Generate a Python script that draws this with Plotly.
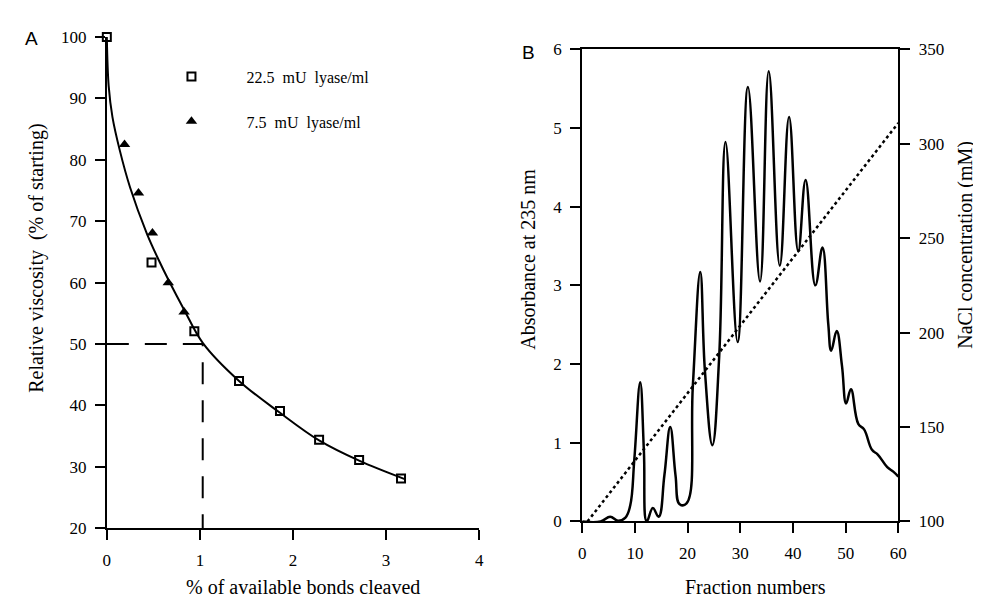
import plotly.graph_objects as go

# panel A: viscosity vs % bonds cleaved
sq_x = [0.0, 0.48, 0.94, 1.42, 1.86, 2.28, 2.71, 3.16]
sq_y = [100, 63.3, 52.1, 44.0, 39.1, 34.4, 31.1, 28.1]
tri_x = [0.19, 0.34, 0.49, 0.66, 0.83]
tri_y = [82.5, 74.6, 68.1, 60.0, 55.2]
fit_x = [0.0, 0.02, 0.06, 0.14, 0.25, 0.43, 0.56, 0.66, 0.83, 1.03, 1.42, 1.86, 2.28, 2.71, 3.2]
fit_y = [100, 92.0, 87.0, 81.5, 75.5, 68.0, 63.6, 60.5, 55.6, 50.2, 44.0, 38.8, 34.3, 31.0, 28.0]
half_x = [0, 1.03, 1.03]
half_y = [50, 50, 20]

# panel B: elution profile
frac = [0, 3.5, 5.3, 6.8, 8.2, 9.1, 9.9, 11.0, 11.7, 12.25, 13.4, 14.5, 15.6, 16.7, 17.7,
        18.5, 19.8, 21.0, 22.4, 23.3, 24.7, 26.0, 27.2, 29.5, 31.45, 33.75, 35.4, 37.5,
        39.26, 41.0, 42.4, 44.25, 45.6, 46.7, 47.26, 48.3, 49.3, 50.1, 51.0, 52.4, 53.5,
        55.0, 56.1, 57.9, 59.1, 60]
absorb = [0, 0, 0.06, 0.01, 0.05, 0.2, 0.8, 1.77, 0.9, 0.0, 0.17, 0.06, 0.59, 1.2, 0.59,
          0.22, 0.23, 1.73, 3.17, 1.9, 0.97, 2.1, 4.82, 2.28, 5.52, 3.05, 5.72, 3.25,
          5.14, 3.43, 4.34, 3.0, 3.48, 2.51, 2.17, 2.42, 1.98, 1.5, 1.68, 1.24, 1.17,
          0.91, 0.85, 0.69, 0.63, 0.57]
grad_x = [1, 60]
grad_nacl = [100, 311]

W, H = 981, 599
serif = "Liberation Serif, serif"
blk = "black"

fig = go.Figure()

fig.add_trace(go.Scatter(x=fit_x, y=fit_y, mode="lines", line=dict(color=blk, width=2, shape="spline"),
                         showlegend=False, xaxis="x", yaxis="y"))
fig.add_trace(go.Scatter(x=half_x, y=half_y, mode="lines", line=dict(color=blk, width=2, dash="22px,16px"),
                         showlegend=False, xaxis="x", yaxis="y"))
fig.add_trace(go.Scatter(x=sq_x, y=sq_y, mode="markers", name="22.5  mU  lyase/ml",
                         marker=dict(symbol="square-open", size=8, color=blk, line=dict(width=2)),
                         cliponaxis=False, legendgroup="a", xaxis="x", yaxis="y"))
fig.add_trace(go.Scatter(x=tri_x, y=tri_y, mode="markers", name="7.5  mU  lyase/ml",
                         marker=dict(symbol="triangle-up", size=10, color=blk),
                         cliponaxis=False, legendgroup="b", xaxis="x", yaxis="y"))

fig.add_trace(go.Scatter(x=frac, y=absorb, mode="lines", line=dict(color=blk, width=2.5, shape="spline", smoothing=1.2),
                         showlegend=False, xaxis="x2", yaxis="y2"))
fig.add_trace(go.Scatter(x=grad_x, y=grad_nacl, mode="lines", line=dict(color=blk, width=2.5, dash="dot"),
                         showlegend=False, xaxis="x2", yaxis="y3"))

ax = dict(showline=True, linecolor=blk, linewidth=2, ticks="outside", ticklen=10, tickwidth=2,
          tickcolor=blk, showgrid=False, zeroline=False, ticklabelstandoff=5,
          tickfont=dict(family=serif, size=17, color=blk))

fig.update_layout(
    width=W, height=H,
    margin=dict(l=0, r=0, t=0, b=0),
    font=dict(family=serif, color=blk),
    paper_bgcolor="white", plot_bgcolor="white",
    xaxis=dict(ax, domain=[96 / W, 473 / W], range=[0, 4], dtick=1, anchor="y"),
    yaxis=dict(ax, domain=[(H - 528) / H, (H - 20.7) / H], range=[20, 100], dtick=10, anchor="x"),
    xaxis2=dict(ax, domain=[577.3 / W, 897.3 / W], range=[0, 60], dtick=10, anchor="y2", mirror=True),
    yaxis2=dict(ax, domain=[(H - 521) / H, (H - 33.3) / H], range=[0, 6], dtick=1, anchor="x2"),
    yaxis3=dict(ax, domain=[(H - 521) / H, (H - 33.3) / H], range=[100, 350], dtick=50,
                anchor="x2", overlaying="y2", side="right"),
    legend=dict(x=126 / W, y=(H - 44) / H, xanchor="left", yanchor="top", bgcolor="rgba(0,0,0,0)",
                font=dict(family=serif, size=16, color=blk), tracegroupgap=21, itemwidth=100),
    showlegend=True,
)

ann = [
    dict(text="A", x=20 / W, y=(H - 22) / H, font=dict(family="Liberation Sans", size=19)),
    dict(text="B", x=523 / W, y=(H - 37) / H, font=dict(family="Liberation Sans", size=19)),
    dict(text="Relative viscosity  (% of starting)", x=24 / W, y=(H - 249) / H, textangle=-90,
         font=dict(family=serif, size=20)),
    dict(text="% of available bonds cleaved", x=295 / W, y=(H - 589) / H, font=dict(family=serif, size=20)),
    dict(text="Absorbance at 235 nm", x=522 / W, y=(H - 250) / H, textangle=-90,
         font=dict(family=serif, size=20)),
    dict(text="NaCl concentration (mM)", x=965 / W, y=(H - 235) / H, textangle=-90,
         font=dict(family=serif, size=20)),
    dict(text="Fraction numbers", x=753 / W, y=(H - 589) / H, font=dict(family=serif, size=20)),
]
for a in ann:
    a["font"]["color"] = blk
    fig.add_annotation(xref="paper", yref="paper", showarrow=False, xanchor="center", yanchor="middle", **a)

fig.write_html("out.html")
